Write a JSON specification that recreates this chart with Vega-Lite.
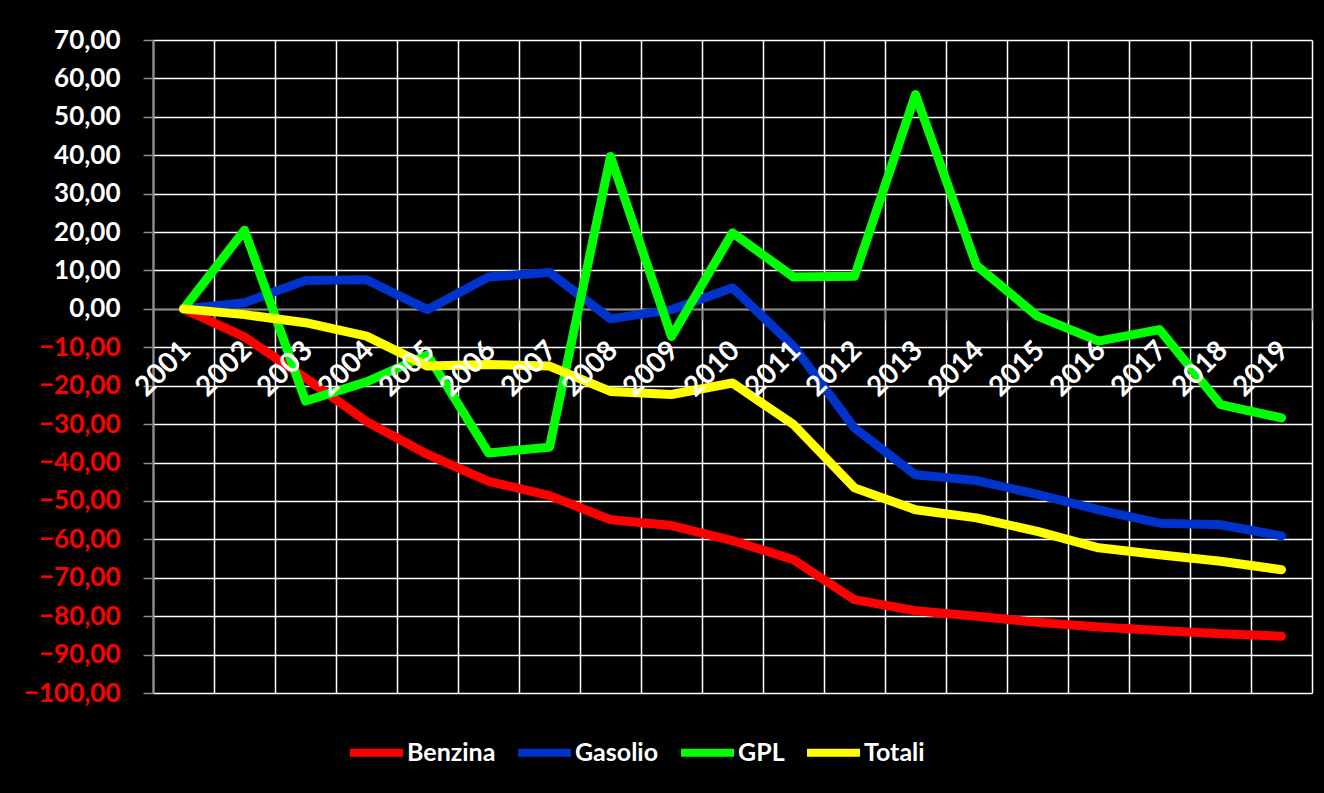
{
  "$schema": "https://vega.github.io/schema/vega-lite/v6.json",
  "width": 1159,
  "height": 653,
  "autosize": {"type": "none"},
  "padding": {"left": 153, "top": 40, "right": 12, "bottom": 100},
  "background": "#000000",
  "config": {"view": {"stroke": null}, "font": "Lato"},
  "data": {"values": [
    {"year": "2001", "serie": "Benzina", "value": 0},
    {"year": "2002", "serie": "Benzina", "value": -7.3},
    {"year": "2003", "serie": "Benzina", "value": -18},
    {"year": "2004", "serie": "Benzina", "value": -29.3},
    {"year": "2005", "serie": "Benzina", "value": -37.9},
    {"year": "2006", "serie": "Benzina", "value": -44.9},
    {"year": "2007", "serie": "Benzina", "value": -48.6},
    {"year": "2008", "serie": "Benzina", "value": -54.9},
    {"year": "2009", "serie": "Benzina", "value": -56.4},
    {"year": "2010", "serie": "Benzina", "value": -60.3},
    {"year": "2011", "serie": "Benzina", "value": -65.3},
    {"year": "2012", "serie": "Benzina", "value": -75.7},
    {"year": "2013", "serie": "Benzina", "value": -78.6},
    {"year": "2014", "serie": "Benzina", "value": -80},
    {"year": "2015", "serie": "Benzina", "value": -81.6},
    {"year": "2016", "serie": "Benzina", "value": -82.8},
    {"year": "2017", "serie": "Benzina", "value": -83.7},
    {"year": "2018", "serie": "Benzina", "value": -84.6},
    {"year": "2019", "serie": "Benzina", "value": -85.2},
    {"year": "2001", "serie": "Gasolio", "value": 0},
    {"year": "2002", "serie": "Gasolio", "value": 1.6},
    {"year": "2003", "serie": "Gasolio", "value": 7.4},
    {"year": "2004", "serie": "Gasolio", "value": 7.6},
    {"year": "2005", "serie": "Gasolio", "value": -0.2},
    {"year": "2006", "serie": "Gasolio", "value": 8.3},
    {"year": "2007", "serie": "Gasolio", "value": 9.5},
    {"year": "2008", "serie": "Gasolio", "value": -2.6},
    {"year": "2009", "serie": "Gasolio", "value": -0.2},
    {"year": "2010", "serie": "Gasolio", "value": 5.5},
    {"year": "2011", "serie": "Gasolio", "value": -9.7},
    {"year": "2012", "serie": "Gasolio", "value": -31},
    {"year": "2013", "serie": "Gasolio", "value": -43.2},
    {"year": "2014", "serie": "Gasolio", "value": -44.7},
    {"year": "2015", "serie": "Gasolio", "value": -48.3},
    {"year": "2016", "serie": "Gasolio", "value": -52.3},
    {"year": "2017", "serie": "Gasolio", "value": -55.8},
    {"year": "2018", "serie": "Gasolio", "value": -56.2},
    {"year": "2019", "serie": "Gasolio", "value": -59.1},
    {"year": "2001", "serie": "GPL", "value": 0},
    {"year": "2002", "serie": "GPL", "value": 20.5},
    {"year": "2003", "serie": "GPL", "value": -24},
    {"year": "2004", "serie": "GPL", "value": -19},
    {"year": "2005", "serie": "GPL", "value": -12},
    {"year": "2006", "serie": "GPL", "value": -37.5},
    {"year": "2007", "serie": "GPL", "value": -36},
    {"year": "2008", "serie": "GPL", "value": 39.7},
    {"year": "2009", "serie": "GPL", "value": -7.2},
    {"year": "2010", "serie": "GPL", "value": 19.8},
    {"year": "2011", "serie": "GPL", "value": 8.3},
    {"year": "2012", "serie": "GPL", "value": 8.5},
    {"year": "2013", "serie": "GPL", "value": 55.8},
    {"year": "2014", "serie": "GPL", "value": 11.3},
    {"year": "2015", "serie": "GPL", "value": -1.9},
    {"year": "2016", "serie": "GPL", "value": -8.4},
    {"year": "2017", "serie": "GPL", "value": -5.4},
    {"year": "2018", "serie": "GPL", "value": -24.9},
    {"year": "2019", "serie": "GPL", "value": -28.4},
    {"year": "2001", "serie": "Totali", "value": 0},
    {"year": "2002", "serie": "Totali", "value": -1.5},
    {"year": "2003", "serie": "Totali", "value": -3.6},
    {"year": "2004", "serie": "Totali", "value": -7.1},
    {"year": "2005", "serie": "Totali", "value": -14.9},
    {"year": "2006", "serie": "Totali", "value": -14.5},
    {"year": "2007", "serie": "Totali", "value": -14.9},
    {"year": "2008", "serie": "Totali", "value": -21.5},
    {"year": "2009", "serie": "Totali", "value": -22.3},
    {"year": "2010", "serie": "Totali", "value": -19.3},
    {"year": "2011", "serie": "Totali", "value": -30.1},
    {"year": "2012", "serie": "Totali", "value": -46.6},
    {"year": "2013", "serie": "Totali", "value": -52.3},
    {"year": "2014", "serie": "Totali", "value": -54.4},
    {"year": "2015", "serie": "Totali", "value": -57.9},
    {"year": "2016", "serie": "Totali", "value": -62.2},
    {"year": "2017", "serie": "Totali", "value": -64},
    {"year": "2018", "serie": "Totali", "value": -65.7},
    {"year": "2019", "serie": "Totali", "value": -67.9}
  ]},
  "layer": [
    {
      "mark": {"type": "line", "strokeWidth": 9, "strokeCap": "round", "strokeJoin": "round"},
      "encoding": {
        "x": {
          "field": "year", "type": "ordinal", "bandPosition": 0.5,
          "scale": {"type": "band", "paddingInner": 0, "paddingOuter": 0},
          "axis": {
            "orient": "bottom", "offset": -384, "title": null, "labels": false,
            "grid": true, "gridColor": "#FFFFFF", "gridWidth": 1.5, "tickBand": "extent",
            "domain": true, "domainColor": "#8C8C8C", "domainWidth": 1.5,
            "ticks": true, "tickColor": "#8C8C8C", "tickSize": 11, "tickWidth": 1.5,
            "zindex": 0
          }
        },
        "y": {
          "field": "value", "type": "quantitative",
          "scale": {"domain": [-100, 70], "nice": false, "zero": false},
          "axis": {
            "title": null,
            "values": [-100, -90, -80, -70, -60, -50, -40, -30, -20, -10, 0, 10, 20, 30, 40, 50, 60, 70],
            "grid": true, "gridColor": "#FFFFFF", "gridWidth": 1.5,
            "domainColor": "#8C8C8C", "domainWidth": 2,
            "tickColor": "#8C8C8C", "tickSize": 10, "tickWidth": 1.5,
            "labelPadding": 23, "labelFontSize": 26, "labelFontWeight": "bold", "labelFont": "Lato",
            "labelFlush": false, "labelOverlap": false,
            "labelColor": {"condition": {"test": "datum.value < 0", "value": "#FF0000"}, "value": "#FFFFFF"},
            "labelExpr": "replace(format(datum.value, '.2f'), '.', ',')"
          }
        },
        "color": {
          "field": "serie", "type": "nominal",
          "scale": {"domain": ["Benzina", "Gasolio", "GPL", "Totali"], "range": ["#FF0000", "#0033CC", "#00FF00", "#FFFF00"]},
          "legend": {
            "orient": "none", "legendX": 193, "legendY": 682, "direction": "horizontal", "title": null,
            "symbolType": "stroke", "symbolStrokeWidth": 8, "symbolSize": 2809,
            "labelColor": "#FFFFFF", "labelFontSize": 25, "labelFontWeight": "bold", "labelFont": "Lato",
            "labelOffset": 0, "columnPadding": 6
          }
        }
      }
    },
    {
      "mark": {"type": "point", "opacity": 0},
      "encoding": {
        "x": {
          "field": "year", "type": "ordinal",
          "scale": {"type": "band", "paddingInner": 0, "paddingOuter": 0},
          "axis": {
            "orient": "bottom", "offset": -384, "title": null,
            "grid": false, "domain": false, "ticks": false, "tickSize": 0,
            "labels": true, "labelAngle": -45, "labelAlign": "right", "labelBaseline": "middle",
            "labelFontSize": 28, "labelFontWeight": "bold", "labelFont": "Lato", "labelColor": "#FFFFFF",
            "labelPadding": 37, "labelOffset": 3, "labelOverlap": false, "zindex": 1
          }
        }
      }
    }
  ],
  "resolve": {"axis": {"x": "independent"}}
}
